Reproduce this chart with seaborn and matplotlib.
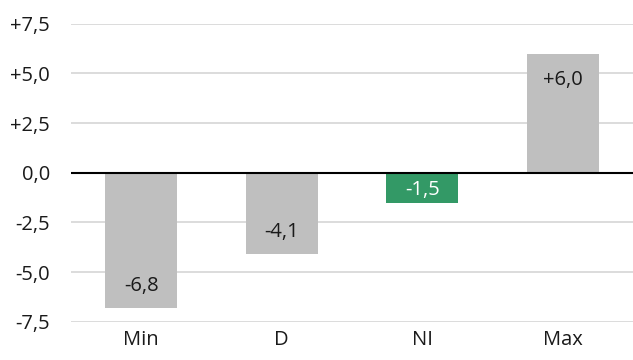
import matplotlib
matplotlib.use("Agg")
import matplotlib.pyplot as plt
import seaborn as sns
import pandas as pd

categories = ["Min", "D", "NI", "Max"]
values = [-6.8, -4.1, -1.5, 6.0]
bar_colors = ["#BFBFBF", "#BFBFBF", "#339966", "#BFBFBF"]
label_colors = ["#1a1a1a", "#1a1a1a", "#ffffff", "#1a1a1a"]
y_ticks = [-7.5, -5.0, -2.5, 0.0, 2.5, 5.0, 7.5]

sns.set_theme(style="white")
plt.rcParams["font.family"] = ["Open Sans", "DejaVu Sans"]

df = pd.DataFrame({"cat": categories, "val": values})

fig = plt.figure(figsize=(6.33, 3.6), dpi=100)
ax = fig.add_axes([0.112, 0.106, 0.888, 0.828])

sns.barplot(data=df, x="cat", y="val", hue="cat", palette=bar_colors,
            legend=False, width=0.51, saturation=1, ax=ax, zorder=3,
            edgecolor="none", linewidth=0)

ax.set_ylim(-7.5, 7.5)
ax.set_yticks(y_ticks)


def fmt(v):
    s = f"{v:+.1f}".replace(".", ",")
    if v == 0:
        s = "0,0"
    return s


ax.set_yticklabels([fmt(t) for t in y_ticks])
for t in y_ticks:
    if t != 0:
        ax.axhline(t, color="#D9D9D9", lw=1.3, zorder=1)
ax.axhline(0, color="black", lw=1.5, zorder=4)

# value labels sit just inside the end of each bar
for i, v in enumerate(values):
    off = -19 if v > 0 else 16
    if abs(v) < 2:
        off = 9
    ax.annotate(fmt(v), xy=(i, v), xytext=(0, off), textcoords="offset points",
                ha="center", va="center", fontsize=14.5, color=label_colors[i], zorder=5)

for s in ax.spines.values():
    s.set_visible(False)
ax.set_xlabel("")
ax.set_ylabel("")
ax.tick_params(axis="both", length=0, labelsize=14.5, colors="#1a1a1a")
ax.tick_params(axis="y", pad=15)
ax.tick_params(axis="x", pad=6)

fig.savefig("out.png", dpi=100)
